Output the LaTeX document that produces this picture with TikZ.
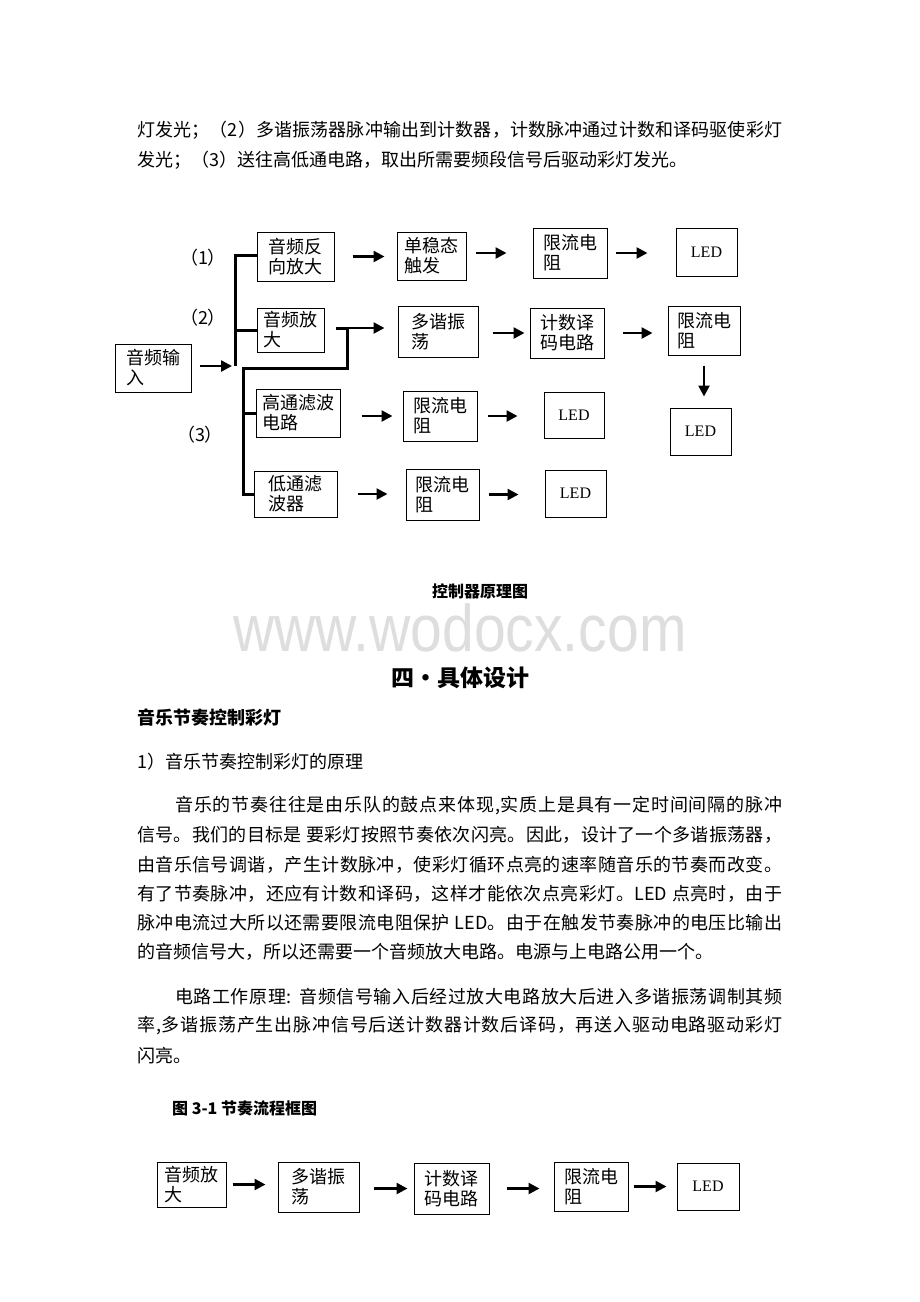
\documentclass[tikz,border=0pt]{standalone}
\usepackage{fontspec}
\newfontfamily\cjk{Noto Sans CJK SC}
\newfontfamily\ledfont{Liberation Serif}
\newfontfamily\wmfont{Liberation Sans}
\usetikzlibrary{arrows.meta}

% stretchable glue between CJK glyphs, so full lines can be justified
\XeTeXinterchartokenstate=1
\newXeTeXintercharclass\cjkcls
\newcount\cjkcnt
\newcommand\cjkrange[2]{\cjkcnt=#1 \loop\XeTeXcharclass\cjkcnt=\cjkcls \ifnum\cjkcnt<#2 \advance\cjkcnt by 1 \repeat}
\cjkrange{"3000}{"303F}
\cjkrange{"4E00}{"9FFF}
\cjkrange{"FF00}{"FFEF}
\XeTeXinterchartoks\cjkcls\cjkcls={\hskip0pt plus 1pt}
\XeTeXinterchartoks\cjkcls 0={\hskip0pt plus 1pt}
\XeTeXinterchartoks 0 \cjkcls={\hskip0pt plus 1pt}
\newcommand\jline[2]{\makebox[#1][s]{#2}}

\begin{document}
\begin{tikzpicture}[
    x=1pt, y=-1pt,
    >={Triangle[length=11pt,width=11pt]},
    box/.style={rectangle, draw, line width=1pt, inner sep=0pt, align=left, font=\cjk\fontsize{18}{20}\selectfont},
    ledbox/.style={rectangle, draw, line width=1pt, inner sep=0pt, font=\ledfont\fontsize{16}{18}\selectfont},
    arr/.style={->, line width=2.5pt},
    bus/.style={line width=3pt},
    txt/.style={anchor=west, inner sep=0pt, font=\cjk\fontsize{18}{20}\selectfont},
    lbl/.style={inner sep=0pt, font=\cjk\fontsize{18}{20}\selectfont}
]

    \fill[white] (0,0) rectangle (920,1302);
    \useasboundingbox (0,0) rectangle (920,1302);

    % Text above ---------------------------------------------------

    \node[txt] (t1) at (137,130) {\jline{645pt}{灯发光；（2）多谐振荡器脉冲输出到计数器，计数脉冲通过计数和译码驱使彩灯}};
    \node[txt] (t2) at (137,160) {发光；（3）送往高低通电路，取出所需要频段信号后驱动彩灯发光。};

    % Nodes ------------------------------------------------------

    \node[box, minimum width=76pt, minimum height=48pt] (in) at (153,368) {音频输\\入};
    \node[lbl] (p1) at (203,258) {（1）};
    \node[lbl] (p2) at (203,318) {（2）};
    \node[lbl] (p3) at (200,435) {（3）};

    \node[box, minimum width=77pt, minimum height=49pt] (fx) at (295.5,256.5) {音频反\\向放大};
    \node[box, minimum width=69pt, minimum height=48pt] (dw) at (431.5,256) {单稳态\\触发};
    \node[box, minimum width=74pt, minimum height=50pt] (xl1) at (570,253) {限流电\\阻};
    \node[ledbox, minimum width=61pt, minimum height=48pt] (led1) at (706.5,252) {LED};

    \node[box, minimum width=67pt, minimum height=44pt] (fd) at (290.5,330) {音频放\\大};
    \node[box, minimum width=80pt, minimum height=51pt] (dx) at (438,331.5) {多谐振\\荡};
    \node[box, minimum width=74pt, minimum height=50pt] (js) at (567,333) {计数译\\码电路};
    \node[box, minimum width=72pt, minimum height=49pt] (xl2) at (704,330.5) {限流电\\阻};
    \node[ledbox, minimum width=61pt, minimum height=47pt] (led4) at (700.5,431.5) {LED};

    \node[box, minimum width=84pt, minimum height=48pt] (hp) at (298,413) {高通滤波\\电路};
    \node[box, minimum width=74pt, minimum height=50pt] (xl3) at (440,416) {限流电\\阻};
    \node[ledbox, minimum width=60pt, minimum height=46pt] (led2) at (574,415) {LED};

    \node[box, minimum width=83pt, minimum height=46pt] (lp) at (295.5,494) {低通滤\\波器};
    \node[box, minimum width=73pt, minimum height=51pt] (xl4) at (442.5,494.5) {限流电\\阻};
    \node[ledbox, minimum width=61pt, minimum height=47pt] (led3) at (575.5,493.5) {LED};

    \coordinate (busT) at (235,255);
    \coordinate (busB) at (235,366);
    \coordinate (j1) at (347,328);
    \coordinate (j2) at (243,368);

    % Arrows ---------------------------------------------------

    % Bus lines
    \draw[bus] (fx.west |- busT) -- (busT) -- (busB);
    \draw[bus] (busT |- fd.west) -- (fd.west);
    \draw[bus, shorten <=11pt] (fd.east |- j1) -- (j1) |- (j2) -- (j2 |- lp.west) -- (lp.west);
    \draw[bus] (j2 |- hp.west) -- (hp.west);
    \draw[arr, shorten <=8pt, shorten >=3pt] (in.east |- busB) -- (busB);

    % Row arrows
    \draw[arr, shorten <=18pt, shorten >=12pt] (fx.east) -- (fx.east -| dw.west);
    \draw[arr, shorten <=9pt, shorten >=26pt] (dw.east |- xl1.west) -- (xl1.west);
    \draw[arr, shorten <=8pt, shorten >=28pt] (xl1.east) -- (xl1.east -| led1.west);

    \draw[arr, shorten >=13pt] (j1) -- (j1 -| dx.west);
    \draw[arr, shorten <=14pt, shorten >=5pt] (dx.east |- js.west) -- (js.west);
    \draw[arr, shorten <=18pt, shorten >=15pt] (js.east) -- (js.east -| xl2.west);
    \draw[arr, shorten <=10pt, shorten >=11pt] (xl2.south) -- (xl2.south |- led4.north);

    \draw[arr, shorten <=21pt, shorten >=10pt] (hp.east |- xl3.west) -- (xl3.west);
    \draw[arr, shorten <=10pt, shorten >=26pt] (xl3.east) -- (xl3.east -| led2.west);

    \draw[arr, shorten <=20pt, shorten >=18pt] (lp.east) -- (lp.east -| xl4.west);
    \draw[arr, shorten <=9pt, shorten >=26pt] (xl4.east) -- (xl4.east -| led3.west);

    % Headings ---------------------------------------------------

    \node[font=\cjk\bfseries\fontsize{16}{18}\selectfont] (cap) at (480,591) {控制器原理图};
    \node[anchor=base, inner sep=0pt, text depth=0pt, text=black!13, font=\wmfont\fontsize{66}{66}\selectfont] (wm) at (460,651) {\scalebox{0.864}[1]{www.wodocx.com}};
    \node[inner sep=0pt, font=\cjk\bfseries\fontsize{23}{26}\selectfont] (h4) at (460,678) {四•具体设计};
    \node[txt, font=\cjk\bfseries\fontsize{18}{20}\selectfont] (sec) at (137,718) {音乐节奏控制彩灯};
    \node[txt] (sub) at (137,762) {1）音乐节奏控制彩灯的原理};

    % Paragraphs
    \node[txt] (a1) at (175,806) {\jline{607pt}{音乐的节奏往往是由乐队的鼓点来体现,实质上是具有一定时间间隔的脉冲}};
    \node[txt] (a2) at (137,835) {\jline{645pt}{信号。我们的目标是 要彩灯按照节奏依次闪亮。因此，设计了一个多谐振荡器，}};
    \node[txt] (a3) at (137,865) {\jline{645pt}{由音乐信号调谐，产生计数脉冲，使彩灯循环点亮的速率随音乐的节奏而改变。}};
    \node[txt] (a4) at (137,894) {\jline{645pt}{有了节奏脉冲，还应有计数和译码，这样才能依次点亮彩灯。LED 点亮时，由于}};
    \node[txt] (a5) at (137,923) {\jline{645pt}{脉冲电流过大所以还需要限流电阻保护 LED。由于在触发节奏脉冲的电压比输出}};
    \node[txt] (a6) at (137,952) {的音频信号大，所以还需要一个音频放大电路。电源与上电路公用一个。};
    \node[txt] (b1l) at (175,997) {\jline{607pt}{电路工作原理: 音频信号输入后经过放大电路放大后进入多谐振荡调制其频}};
    \node[txt] (b2l) at (137,1026) {\jline{645pt}{率,多谐振荡产生出脉冲信号后送计数器计数后译码，再送入驱动电路驱动彩灯}};
    \node[txt] (b3l) at (137,1056) {闪亮。};
    \node[txt, font=\cjk\bfseries\fontsize{16}{18}\selectfont] (fig) at (172,1108) {图 3-1 节奏流程框图};

    % Rhythm chain -----------------------------------------------

    \node[box, minimum width=69pt, minimum height=45pt] (r1) at (191.5,1184.5) {音频放\\大};
    \node[box, minimum width=81pt, minimum height=50pt] (r2) at (318.5,1187) {多谐振\\荡};
    \node[box, minimum width=75pt, minimum height=51pt] (r3) at (451.5,1188.5) {计数译\\码电路};
    \node[box, minimum width=74pt, minimum height=49pt] (r4) at (591,1186.5) {限流电\\阻};
    \node[ledbox, minimum width=62pt, minimum height=47pt] (r5) at (708,1186.5) {LED};

    \draw[arr, shorten <=6pt, shorten >=12pt] (r1.east) -- (r1.east -| r2.west);
    \draw[arr, shorten <=14pt, shorten >=6pt] (r2.east |- r3.west) -- (r3.west);
    \draw[arr, shorten <=17pt, shorten >=14pt] (r3.east) -- (r3.east -| r4.west);
    \draw[arr, shorten <=5pt, shorten >=10pt] (r4.east) -- (r4.east -| r5.west);

\end{tikzpicture}
\end{document}
